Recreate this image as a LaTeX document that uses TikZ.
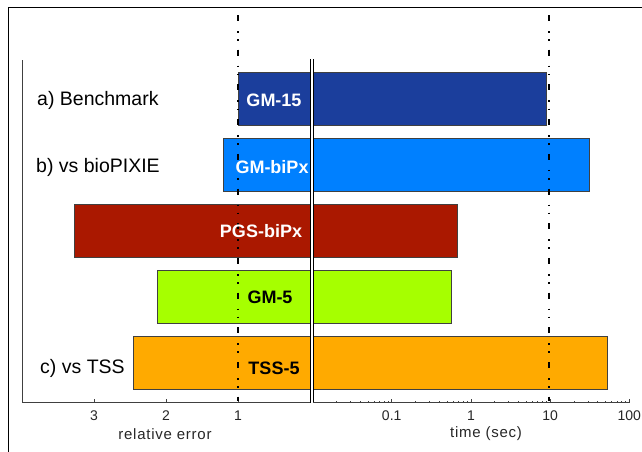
\documentclass[tikz,border=0pt]{standalone}
\usepackage{fontspec}
\setmainfont{Liberation Sans}
\newfontfamily\spacedsans[LetterSpace=5]{Liberation Sans}
\begin{document}
\begin{tikzpicture}[x=1pt,y=-1pt,
  bar/.style={draw=black!75,line width=0.8pt},
  barlabel/.style={font=\fontsize{18}{20}\selectfont\bfseries,inner sep=0pt},
  rowlabel/.style={font=\fontsize{19.5}{21}\selectfont,inner sep=0pt,anchor=west},
  ticklabel/.style={font=\fontsize{14}{16}\selectfont,text=black!85,inner sep=0pt},
  axistitle/.style={font=\spacedsans\fontsize{15}{17}\selectfont,text=black!85,inner sep=0pt},
  axisline/.style={draw=black!75,line width=0.9pt},
  refline/.style={draw=black,line width=1.4pt,dash pattern=on 6pt off 10pt on 1.6pt off 6.5pt on 1.6pt off 9pt}]
\useasboundingbox (0,0) rectangle (642,451);
\definecolor{cgmfifteen}{RGB}{27,62,156}
\definecolor{cgmbipx}{RGB}{0,128,255}
\definecolor{cpgs}{RGB}{170,24,0}
\definecolor{cgmfive}{RGB}{166,255,0}
\definecolor{ctss}{RGB}{255,170,0}

% outer frame (open to the right and bottom)
\draw[black,line width=1pt] (8,460) -- (8,7) -- (650,7);

% bars
\fill[cgmfifteen] (238,72) rectangle (546.5,125);
\draw[bar] (238,72) rectangle (546.5,125);
\fill[cgmbipx] (223,138) rectangle (589,191);
\draw[bar] (223,138) rectangle (589,191);
\fill[cpgs] (74,204) rectangle (457.5,257);
\draw[bar] (74,204) rectangle (457.5,257);
\fill[cgmfive] (157,270) rectangle (451,323);
\draw[bar] (157,270) rectangle (451,323);
\fill[ctss] (133,336) rectangle (607,389);
\draw[bar] (133,336) rectangle (607,389);

% panel separator: black-white-black double line
\coordinate (sepTop) at (311.7,59);
\coordinate (sepBot) at (311.7,402.5);
\draw[white,line width=2pt] (sepTop) -- (sepBot);
\draw[black,line width=0.9pt] ([xshift=-1.3pt]sepTop) -- ([xshift=-1.3pt]sepBot);
\draw[black,line width=0.9pt] ([xshift=1.3pt]sepTop) -- ([xshift=1.3pt]sepBot);

% axes
\coordinate (leftTop) at (22,60);
\coordinate (leftOrigin) at (22,402.5);
\coordinate (leftEnd) at (310.4,402.5);
\coordinate (rightStart) at (313,402.5);
\coordinate (rightEnd) at (630,402.5);
\draw[axisline] (leftTop) -- (leftOrigin) -- (leftEnd);
\draw[axisline] (rightStart) -- (rightEnd);

% relative-error ticks (linear, 72pt per unit, 0 at x=310)
\foreach \v/\name in {3/tthree,2/ttwo,1/tone}{
  \draw[black!75,line width=0.8pt] ({310-72*\v},402.5) -- ({310-72*\v},399);
  \node[ticklabel] (\name) at ({310-72*\v},416) {\v};
}

% time ticks (log scale, 0.01 at x=312.5, 79.2pt per decade)
\foreach \d in {-2,-1,0,1}{
  \foreach \k in {2,...,9}{
    \pgfmathsetmacro{\xx}{312.5+79.2*(\d+2+log10(\k))}
    \draw[black!75,line width=0.7pt] (\xx,402.5) -- (\xx,400.5);
  }
}
\foreach \t/\e/\name in {0.1/1/ttenth,1/2/tunit,10/3/tten,100/4/thundred}{
  \draw[black!75,line width=0.8pt] ({312.5+79.2*\e},402.5) -- ({312.5+79.2*\e},399);
  \node[ticklabel] (\name) at ({312.5+79.2*\e},416) {\t};
}

% reference lines at relative error 1 and time 10 s
\coordinate (refAtop) at (238,15);
\coordinate (refAbot) at (238,401);
\coordinate (refBtop) at (549,15);
\coordinate (refBbot) at (549,401);
\draw[refline] (refAtop) -- (refAbot);
\draw[refline] (refBtop) -- (refBbot);

% axis titles
\node[axistitle] (errtitle) at (165,434) {relative error};
\node[axistitle] (timetitle) at (486,434) {time (sec)};

% bar labels
\node[barlabel,text=white] (lgmfifteen) at (274,100) {GM-15};
\node[barlabel,text=white] (lgmbipx) at (272,167) {GM-biPx};
\node[barlabel,text=white] (lpgs) at (261,231) {PGS-biPx};
\node[barlabel,text=black] (lgmfive) at (270,297) {GM-5};
\node[barlabel,text=black] (ltss) at (274,368) {TSS-5};

% row labels
\node[rowlabel] (rowa) at (37,100) {a) Benchmark};
\node[rowlabel] (rowb) at (36,167) {b) vs bioPIXIE};
\node[rowlabel] (rowc) at (40,368) {c) vs TSS};
\end{tikzpicture}
\end{document}
